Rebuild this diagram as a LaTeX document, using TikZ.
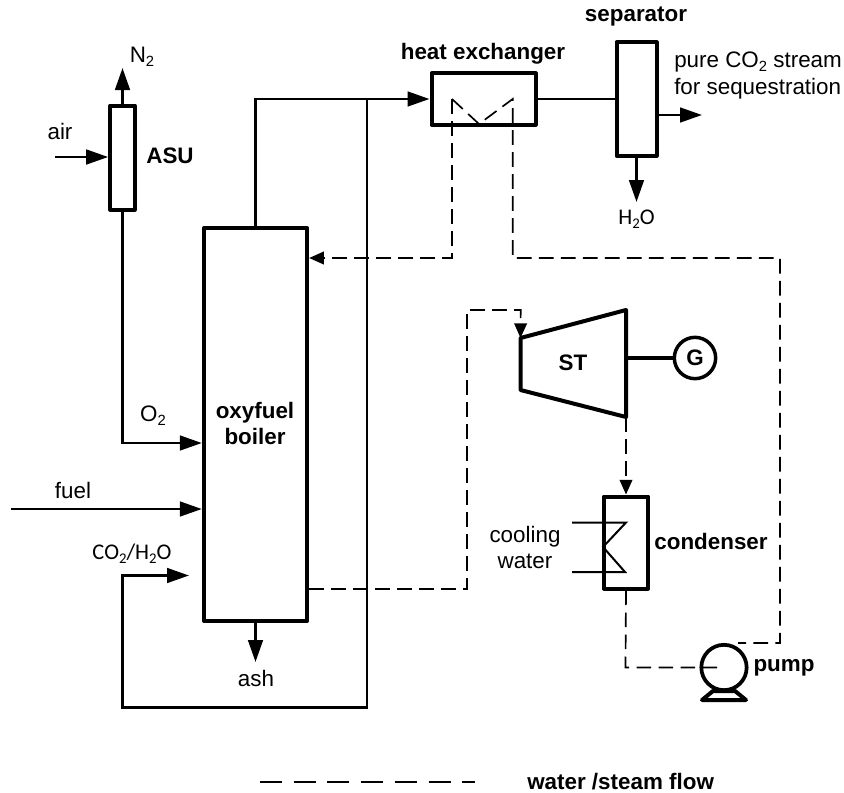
\documentclass[tikz,border=0pt]{standalone}
\usepackage{fontspec}
\setmainfont{Liberation Sans}
\newfontfamily\calib{Carlito}
\usetikzlibrary{arrows.meta}
\newcommand{\subsc}[1]{\raisebox{-0.18em}{\scalebox{0.66}{#1}}}
\tikzset{
  x=0.75pt,y=-0.75pt,
  unit/.style={draw,line width=3pt,line join=round,line cap=round,fill=white,rectangle,inner sep=0pt},
  flow/.style={draw,line width=2pt,line join=miter},
  water/.style={draw,line width=1.25pt,dash pattern=on 11pt off 5.5pt},
  head/.style={-{Triangle[length=16.5pt,width=11pt,sharp]}},
  headw/.style={-{Triangle[length=11pt,width=9.5pt,sharp]}},
  lab/.style={inner sep=0pt,font=\fontsize{16.8pt}{20pt}\selectfont},
  blab/.style={inner sep=0pt,font=\fontsize{16.8pt}{20pt}\selectfont\bfseries},
  clab/.style={inner sep=0pt,font=\fontsize{16.8pt}{20pt}\selectfont\calib},
}
\begin{document}
\begin{tikzpicture}
\useasboundingbox (0,0) rectangle (844,793);
% free-end coordinates
\coordinate (airin) at (55,157);
\coordinate (n2tip) at (122.5,68);
\coordinate (fuelin) at (11,509);
\coordinate (recycletip) at (189,575.5);
\coordinate (ashtip) at (255.5,662);
\coordinate (h2otip) at (636.5,202);
\coordinate (co2tip) at (702,115);
\coordinate (leg1) at (260,782);
\coordinate (leg2) at (475,782);
\coordinate (cw1) at (572,522.5);
\coordinate (cw2) at (572,572);
% units
\node[unit,minimum width=18.5pt,minimum height=78pt] (asu) at (122.5,157.5) {};
\node[unit,minimum width=77.5pt,minimum height=294.5pt] (boiler) at (255.5,424.5) {};
\node[unit,minimum width=78pt,minimum height=38.5pt] (hx) at (483.5,99) {};
\node[unit,minimum width=30pt,minimum height=85pt] (sep) at (636.5,99) {};
\node[unit,minimum width=33.5pt,minimum height=69pt] (cond) at (626,542.5) {};
\node[draw,circle,line width=2.6pt,inner sep=0pt,minimum size=31pt,fill=white] (gen) at (695,358) {};
\node[draw,circle,line width=2.8pt,inner sep=0pt,minimum size=34pt] (pump) at (724,667.5) {};
\draw[unit,fill=none] (702,700) -- (746,700) -- (735,691) -- (713,691) -- cycle;
\coordinate (t1) at (520.5,338);
\coordinate (t2) at (626,310);
\coordinate (t3) at (626,417);
\coordinate (t4) at (520.5,390);
\draw[unit] (t1) -- (t2) -- (t3) -- (t4) -- cycle;
% solid flows
\draw[flow,head] (asu.north) -- (n2tip);
\draw[flow,head] (airin) -- (asu.west |- airin);
\draw[flow,head] (asu.south) -- (asu.south |- 0,443) -- (boiler.west |- 0,443);
\draw[flow,head] (fuelin) -- (boiler.west |- fuelin);
\draw[flow,head] (boiler.south) -- (ashtip);
\draw[flow,head] (boiler.north) -- (boiler.north |- hx.west) -- (hx.west);
\draw[flow,head] (367,99) -- (367,707.5) -- (asu.south |- 0,707.5) -- (asu.south |- recycletip) -- (recycletip);
\draw[flow] (hx.east) -- (sep.west);
\draw[flow,head] (sep.east |- co2tip) -- (co2tip);
\draw[flow,head] (sep.south) -- (h2otip);
\draw[flow,line width=2.6pt] (t3 |- gen) -- (gen.west);
% water / steam
\draw[water,headw] (452,99) -- (452,258) -- (boiler.east |- 0,258);
\draw[water] (452,99) -- (479,124) -- (512.7,99) -- (512.7,258) -- (780,258) -- (780,643) -- (738,643);
\draw[water,headw] (boiler.east |- 0,589) -- (467,589) -- (467,310) -- (520.7,310) -- (t1);
\draw[water,headw] (t3) -- (cond.north -| t3);
\draw[water] (cond.south) -- (625.5,667.5) -- (717,667.5);
\draw[line width=1.5pt,line join=miter] (cw1) -- (626,522.5) -- (603,547) -- (625,572) -- (cw2);
\draw[line width=2.2pt,dash pattern=on 16.5pt off 8.8pt] (leg1) -- (leg2);
% labels
\node[lab] (lN) at (142,57) {N\subsc{2}};
\node[lab] (lair) at (60,131) {air};
\node[blab] (lasu) at (170,156) {ASU};
\node[lab] (lO) at (153,416) {O\subsc{2}};
\node[lab] (lfuel) at (73,490) {fuel};
\node[clab] (lrec) at (132,554) {CO\subsc{2}/H\subsc{2}O};
\node[lab] (lash) at (256,678) {ash};
\node[blab,align=center] (lboil) at (255,423.5) {oxyfuel\\boiler};
\node[blab] (lhx) at (483,54) {heat exchanger};
\node[blab] (lsep) at (636,17) {separator};
\node[lab,align=left,anchor=west] (lco2) at (674,75.5) {pure CO\subsc{2} stream\\for sequestration};
\node[clab] (lh2o) at (636.5,219) {H\subsc{2}O};
\node[blab] (lst) at (573,363) {ST};
\node[blab] (lg) at (695,358) {G};
\node[lab,align=center] (lcw) at (525,547.5) {cooling\\water};
\node[blab] (lcond) at (711,541) {condenser};
\node[blab] (lpump) at (784,668) {pump};
\node[blab,anchor=west] (lleg) at (527,782) {water /steam flow};
\end{tikzpicture}
\end{document}
